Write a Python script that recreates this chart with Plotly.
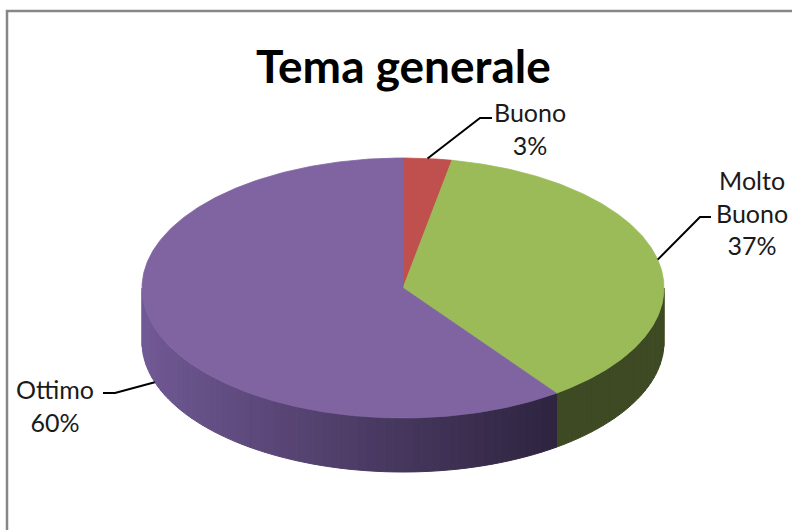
import numpy as np
import plotly.graph_objects as go

# ---- data ----
categories = ["Buono", "Molto Buono", "Ottimo"]
percents = [3, 37, 60]
label_texts = ["Buono<br>3%", "Molto<br>Buono<br>37%", "Ottimo<br>60%"]
top_colors = ["#C0504D", "#9BBB59", "#8064A2"]
side_colors = ["#7A2E2C", "#3E4A23", "#8064A2"]
title_text = "Tema generale"

# ---- geometry (pixel space) ----
W, H = 792, 530
CX, CY, RX, RY, DEPTH = 403, 288, 261, 130, 54


def ell(theta_deg, dy=0.0):
    t = np.radians(theta_deg)
    return CX + RX * np.sin(t), CY - RY * np.cos(t) + dy


def hex2rgb(h):
    h = h.lstrip("#")
    return np.array([int(h[i:i + 2], 16) for i in (0, 2, 4)], dtype=float)


def rgb2hex(c):
    return "#%02x%02x%02x" % tuple(int(round(v)) for v in c)


total = float(sum(percents))
bounds = np.concatenate([[0], np.cumsum(percents)]) / total * 360.0

fig = go.Figure()

# ---- side walls (front half only: 90..270 deg) ----
purple_light = hex2rgb("#725A96")
purple_dark = hex2rgb("#2E243F")
for i, cat in enumerate(categories):
    a0, a1 = max(bounds[i], 90.0), min(bounds[i + 1], 270.0)
    if a1 <= a0:
        continue
    n = max(2, int((a1 - a0) / 2))
    edges = np.linspace(a0, a1, n + 1)
    for k in range(n):
        th = np.linspace(edges[k], edges[k + 1], 4)
        xs_t, ys_t = ell(th)
        xs_b, ys_b = ell(th[::-1], DEPTH)
        xs = np.concatenate([xs_t, xs_b, xs_t[:1]])
        ys = np.concatenate([ys_t, ys_b, ys_t[:1]])
        if i == 2:
            xm = float(np.mean(xs_t))
            f = np.clip((xm - (CX - RX)) / (557 - (CX - RX)), 0, 1) ** 0.9
            col = rgb2hex(purple_light * (1 - f) + purple_dark * f)
        else:
            col = side_colors[i]
        fig.add_trace(go.Scatter(x=xs, y=ys, mode="lines", fill="toself",
                                 fillcolor=col, line=dict(color=col, width=1),
                                 hoverinfo="skip", showlegend=False))

# ---- top faces ----
for i, cat in enumerate(categories):
    th = np.linspace(bounds[i], bounds[i + 1], max(8, int(bounds[i + 1] - bounds[i]) * 2))
    xs, ys = ell(th)
    xs = np.concatenate([[CX], xs, [CX]])
    ys = np.concatenate([[CY], ys, [CY]])
    fig.add_trace(go.Scatter(x=xs, y=ys, mode="lines", fill="toself",
                             fillcolor=top_colors[i],
                             line=dict(color=top_colors[i], width=0.8),
                             name=cat, hoverinfo="name", showlegend=False))

# ---- leader lines and labels ----
label_pos = [(530, 128), (752, 212), (55, 405)]
elbows = [((480, 118), (492, 118)), ((700, 217), (711, 217)), ((115, 393), (103, 393))]
for i, cat in enumerate(categories):
    mid = (bounds[i] + bounds[i + 1]) / 2.0
    ax_, ay_ = ell(mid)
    if 90 < mid < 270:
        ay_ += DEPTH
    (ex, ey), (hx, hy) = elbows[i]
    fig.add_trace(go.Scatter(x=[float(ax_), ex, hx], y=[float(ay_), ey, hy], mode="lines",
                             line=dict(color="black", width=2),
                             hoverinfo="skip", showlegend=False))
    fig.add_annotation(x=label_pos[i][0], y=label_pos[i][1], text=label_texts[i],
                       showarrow=False, xanchor="center", yanchor="middle",
                       align="center",
                       font=dict(family="Lato, Carlito, sans-serif", size=25, color="#1a1a1a"))

fig.add_annotation(x=403, y=65, text="<b>" + title_text + "</b>", showarrow=False,
                   xanchor="center", yanchor="middle",
                   font=dict(family="Lato, sans-serif", size=46, color="black"))

# chart border
fig.add_shape(type="rect", x0=7, y0=11, x1=820, y1=560, xref="x", yref="y",
              line=dict(color="#878787", width=2.5), layer="above")

fig.update_layout(
    width=W, height=H, margin=dict(l=0, r=0, t=0, b=0),
    paper_bgcolor="white", plot_bgcolor="white",
    xaxis=dict(range=[0, W], visible=False, fixedrange=True),
    yaxis=dict(range=[H, 0], visible=False, fixedrange=True),
    showlegend=False,
)

fig.write_html("out.html")
